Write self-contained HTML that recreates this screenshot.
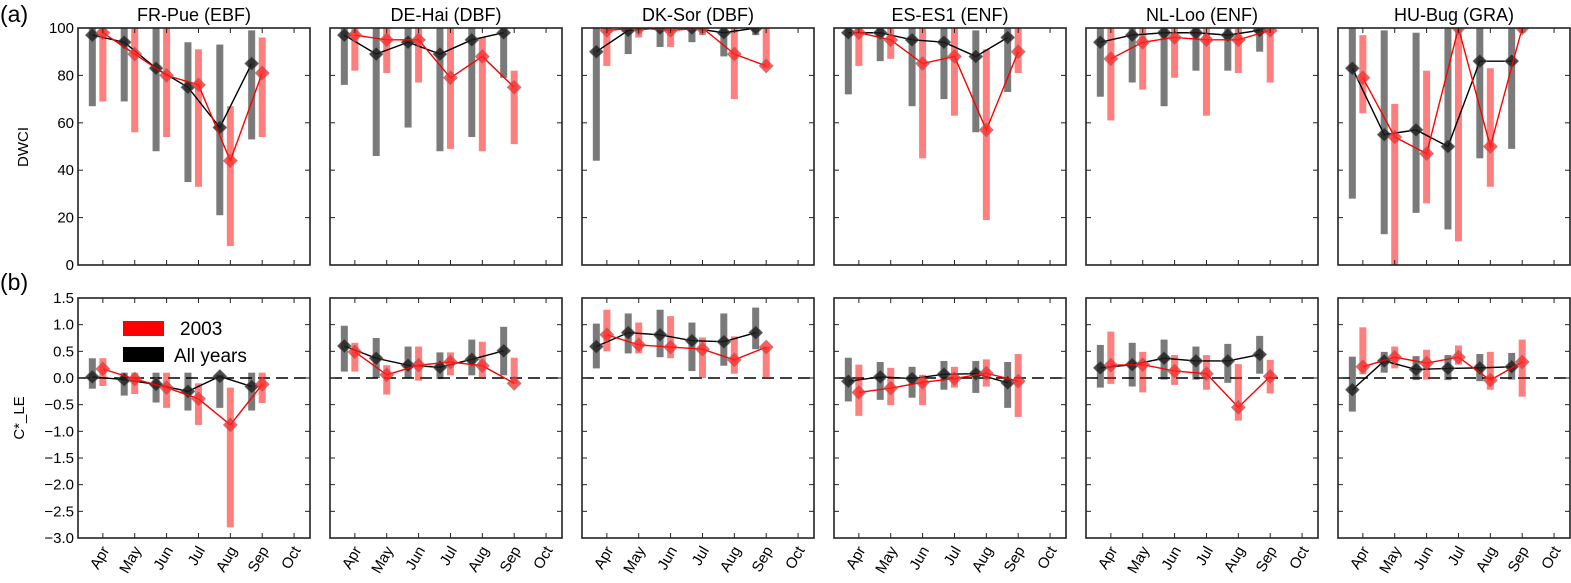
<!DOCTYPE html>
<html><head><meta charset="utf-8"><style>
body{margin:0;background:#fff;}
svg{display:block;font-family:"Liberation Sans","DejaVu Sans",sans-serif;}
</style></head><body>
<svg id="chart" width="1571" height="583" viewBox="0 0 1571 583" xmlns="http://www.w3.org/2000/svg"></svg>
<script>
const months = ['Apr','May','Jun','Jul','Aug','Sep','Oct'];
const sites = ['FR-Pue (EBF)','DE-Hai (DBF)','DK-Sor (DBF)','ES-ES1 (ENF)','NL-Loo (ENF)','HU-Bug (GRA)'];
const dwciTicks = [0,20,40,60,80,100];
const cleTicks = [-3.0,-2.5,-2.0,-1.5,-1.0,-0.5,0.0,0.5,1.0,1.5];
// DWCI (row a)
const dwciAllMean = [[97,94,83,75,58,85],[97,89,94,89,95,98],[90,99,100,100,98,100],[98,98,95,94,88,96],[94,97,98,98,97,99],[83,55,57,50,86,86]];
const dwciAllLo = [[67,69,48,35,21,53],[76,46,58,48,54,79],[44,89,92,94,88,97],[72,86,67,70,56,73],[71,77,67,82,82,90],[28,13,22,15,45,49]];
const dwciAllHi = [[100,100,100,94,93,99],[100,100,100,100,100,100],[100,100,100,100,100,100],[100,100,100,100,99,100],[100,100,100,100,100,100],[100,99,98,100,100,100]];
const dwci03Mean = [[98,89,80,76,44,81],[97,95,95,79,88,75],[99,100,99,100,89,84],[98,95,85,88,57,90],[87,94,96,95,95,99],[79,54,47,100,50,100]];
const dwci03Lo = [[69,56,54,33,8,54],[82,81,77,49,48,51],[84,96,92,97,70,83],[84,87,45,63,19,81],[61,74,79,63,81,77],[64,0,26,10,33,98]];
const dwci03Hi = [[100,100,100,91,67,96],[100,100,100,100,96,82],[100,100,100,100,100,100],[100,100,100,100,91,100],[100,100,100,100,100,100],[97,68,82,100,83,100]];
// C*_LE (row b)
const cleAllMean = [[0.02,-0.03,-0.12,-0.25,0.03,-0.16],[0.6,0.37,0.24,0.2,0.35,0.51],[0.59,0.85,0.81,0.70,0.68,0.85],[-0.06,0.02,-0.01,0.07,0.08,-0.09],[0.19,0.25,0.37,0.32,0.32,0.44],[-0.22,0.32,0.16,0.18,0.19,0.21]];
const cleAllLo = [[-0.2,-0.33,-0.46,-0.61,-0.56,-0.61],[0.12,0,0,-0.02,0.05,0.05],[0.18,0.46,0.39,0.13,0.23,0.54],[-0.44,-0.41,-0.37,-0.22,-0.28,-0.56],[-0.18,-0.16,-0.03,-0.03,-0.09,0.08],[-0.63,0.1,-0.04,-0.04,-0.06,-0.03]];
const cleAllHi = [[0.37,0.1,0.1,0.1,0.06,0.1],[0.98,0.75,0.59,0.48,0.72,0.96],[1.02,1.21,1.28,1.04,1.21,1.32],[0.38,0.3,0.21,0.32,0.32,0.3],[0.62,0.66,0.72,0.59,0.64,0.79],[0.4,0.49,0.41,0.43,0.45,0.47]];
const cle03Mean = [[0.17,-0.02,-0.18,-0.39,-0.88,-0.12],[0.49,0.06,0.24,0.3,0.23,-0.1],[0.81,0.62,0.58,0.54,0.34,0.58],[-0.27,-0.19,-0.08,-0.01,0.09,-0.06],[0.24,0.25,0.13,0.08,-0.55,0.03],[0.21,0.39,0.28,0.39,-0.04,0.3]];
const cle03Lo = [[-0.15,-0.3,-0.56,-0.88,-2.8,-0.47],[0.12,-0.31,-0.05,0.05,0,-0.1],[0.5,0.46,0.37,0,0.08,0],[-0.71,-0.51,-0.51,-0.18,-0.16,-0.73],[-0.11,-0.27,-0.13,-0.22,-0.8,-0.29],[0.07,0.18,-0.03,0.25,-0.22,-0.35]];
const cle03Hi = [[0.37,0.1,0.1,-0.1,-0.18,0.1],[0.66,0.24,0.59,0.48,0.68,0.38],[1.28,1.04,1.16,0.76,0.78,0.59],[0.25,0.19,0.06,0.21,0.35,0.45],[0.87,0.49,0.43,0.43,0.26,0.34],[0.95,0.59,0.53,0.61,0.49,0.72]];

const svg = document.getElementById('chart');
const NS = 'http://www.w3.org/2000/svg';
function mk(tag, attrs, parent){const e=document.createElementNS(NS,tag);for(const k in attrs)e.setAttribute(k,attrs[k]);(parent||svg).appendChild(e);return e;}

const PW=232, PX0=78, PSTEP=252, XMIN=3.22, XMAX=10.5;
const rows=[{top:28,bot:265,ymin:0,ymax:100,ticks:dwciTicks,am:dwciAllMean,al:dwciAllLo,ah:dwciAllHi,rm:dwci03Mean,rl:dwci03Lo,rh:dwci03Hi,key:'dwci'},
            {top:298,bot:538,ymin:-3,ymax:1.5,ticks:cleTicks,am:cleAllMean,al:cleAllLo,ah:cleAllHi,rm:cle03Mean,rl:cle03Lo,rh:cle03Hi,key:'cle'}];

rows.forEach((R,ri)=>{
  const ys=v=>R.bot-(v-R.ymin)/(R.ymax-R.ymin)*(R.bot-R.top);
  for(let p=0;p<6;p++){
    const x0=PX0+p*PSTEP;
    const xs=m=>x0+(m-XMIN)/(XMAX-XMIN)*PW;
    const g=mk('g',{});
    
    
    const cid='clip'+ri+p;
    const cp=mk('clipPath',{id:cid},g);mk('rect',{x:x0,y:R.top,width:PW,height:R.bot-R.top},cp);
    const plot=mk('g',{'clip-path':'url(#'+cid+')'},g);
    if(ri===1){const z=mk('line',{x1:x0,x2:x0+PW,y1:ys(0),y2:ys(0),stroke:'#000','stroke-width':1.5,'stroke-dasharray':'12,6'},plot);
      
      }
    const series=[{m:R.am,l:R.al,h:R.ah,off:-0.33,bar:'rgba(0,0,0,0.52)',line:'#000',dia:'rgba(30,30,30,0.8)',n:'all-years'},
                  {m:R.rm,l:R.rl,h:R.rh,off:0,bar:'rgba(255,0,0,0.5)',line:'#f00',dia:'rgba(255,40,40,0.75)',n:'2003'}];
    series.forEach(S=>{
      for(let i=0;i<6;i++){const cx=xs(4+i+S.off);const y1=ys(S.h[p][i]),y2=ys(S.l[p][i]);
        const b=mk('rect',{x:cx-3.5,y:y1,width:7,height:Math.max(0,y2-y1),fill:S.bar},plot);
        
        }
    });
    series.forEach(S=>{
      const pts=S.m[p].map((v,i)=>xs(4+i+S.off)+','+ys(v)).join(' ');
      const pl=mk('polyline',{points:pts,fill:'none',stroke:S.line,'stroke-width':1.4},plot);
      
      
      S.m[p].forEach((v,i)=>{const cx=xs(4+i+S.off),cy=ys(v),r=7;
        const d=mk('polygon',{points:`${cx},${cy-r} ${cx+r},${cy} ${cx},${cy+r} ${cx-r},${cy}`,fill:S.dia,stroke:'rgba(120,120,120,0.6)','stroke-width':0.8},plot);
        
        });
    });
    R.ticks.forEach(t=>{const y=ys(t);
      mk('line',{x1:x0,x2:x0+5,y1:y,y2:y,stroke:'#222','stroke-width':1},g);
      mk('line',{x1:x0+PW-5,x2:x0+PW,y1:y,y2:y,stroke:'#222','stroke-width':1},g);
      if(p===0){const tl=mk('text',{x:x0-4,y:y+5,'text-anchor':'end','font-size':15,fill:'#000'},g);
        tl.textContent=(ri===0?String(t):t.toFixed(1).replace('-','\u2212'));
        
        }
    });
    months.forEach((mo,i)=>{const x=xs(4+i);
      mk('line',{x1:x,x2:x,y1:R.top,y2:R.top+5,stroke:'#222','stroke-width':1},g);
      mk('line',{x1:x,x2:x,y1:R.bot-5,y2:R.bot,stroke:'#222','stroke-width':1},g);
      if(ri===1){const tl=mk('text',{x:x+7,y:R.bot+12,'text-anchor':'end','font-size':15,fill:'#000',transform:`rotate(-60 ${x+7} ${R.bot+12})`},g);
        tl.textContent=mo;
        
        }
    });
    mk('rect',{x:x0,y:R.top,width:PW,height:R.bot-R.top,fill:'none',stroke:'#222','stroke-width':1.6},g);
    if(ri===0){const t=mk('text',{x:x0+PW/2,y:21,'text-anchor':'middle','font-size':18,fill:'#000'},g);
      t.textContent=sites[p];
      
      }
  }
});
</script>
<script>
(function(){
const svg=document.getElementById('chart');const NS='http://www.w3.org/2000/svg';
function mk(tag,a){const e=document.createElementNS(NS,tag);for(const k in a)e.setAttribute(k,a[k]);svg.appendChild(e);return e;}
let t=mk('text',{x:0,y:22,'font-size':23});t.textContent='(a)';


t=mk('text',{x:0,y:290,'font-size':23});t.textContent='(b)';


t=mk('text',{x:0,y:0,'font-size':15,'text-anchor':'middle',transform:'translate(28 147) rotate(-90)'});t.textContent='DWCI';


t=mk('text',{x:0,y:0,'font-size':15,'text-anchor':'middle',transform:'translate(24 418) rotate(-90)'});t.textContent='C*_LE';


let r=mk('rect',{x:123,y:321,width:41,height:15,fill:'#f00'});


t=mk('text',{x:180,y:335,'font-size':19});t.textContent='2003';


r=mk('rect',{x:123,y:347,width:41,height:15,fill:'#000'});


t=mk('text',{x:174,y:362,'font-size':19});t.textContent='All years';


})();
</script>
</body></html>
